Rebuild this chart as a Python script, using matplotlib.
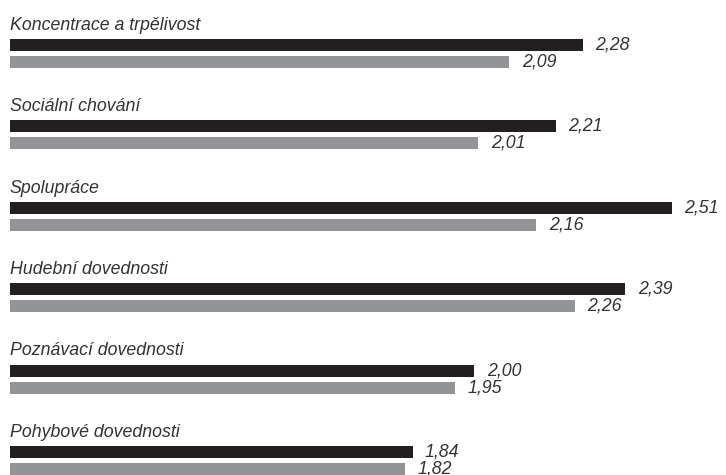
import numpy as np
import matplotlib.pyplot as plt
from matplotlib.transforms import blended_transform_factory

plt.rcParams['font.family'] = ['Liberation Sans', 'DejaVu Sans']

categories = ['Koncentrace a trpělivost', 'Sociální chování', 'Spolupráce',
              'Hudební dovednosti', 'Poznávací dovednosti', 'Pohybové dovednosti']
series_a = [2.28, 2.21, 2.51, 2.39, 2.00, 1.84]
series_b = [2.09, 2.01, 2.16, 2.26, 1.95, 1.82]

black = '#231f20'
grey = '#929497'
txt = '#333333'

fig = plt.figure(figsize=(7.26, 4.75), dpi=100)
ax = fig.add_axes([10 / 726, 0, 716 / 726, 1])

idx = np.arange(len(categories))
off = 0.1044
h = 0.147

ax.barh(idx - off, series_a, height=h, color=black, left=0)
ax.barh(idx + off, series_b, height=h, color=grey, left=0)

ax.set_xlim(0.8, 2.65)
ax.set_ylim(5.178, -0.657)
ax.axis('off')

trans = blended_transform_factory(ax.transAxes, ax.transData)
for i, name in enumerate(categories):
    ax.text(0.0, i - 0.29, name, transform=trans, fontsize=12.8,
            style='italic', color=txt, va='baseline', ha='left')

def fmt(v):
    return f'{v:.2f}'.replace('.', ',')

for i in idx:
    ax.annotate(fmt(series_a[i]), (series_a[i], i - off), xytext=(9, 0),
                textcoords='offset points', va='center', ha='left',
                fontsize=12.8, style='italic', color=txt)
    ax.annotate(fmt(series_b[i]), (series_b[i], i + off), xytext=(9, 0),
                textcoords='offset points', va='center', ha='left',
                fontsize=12.8, style='italic', color=txt)

fig.savefig('out.png', dpi=100)
